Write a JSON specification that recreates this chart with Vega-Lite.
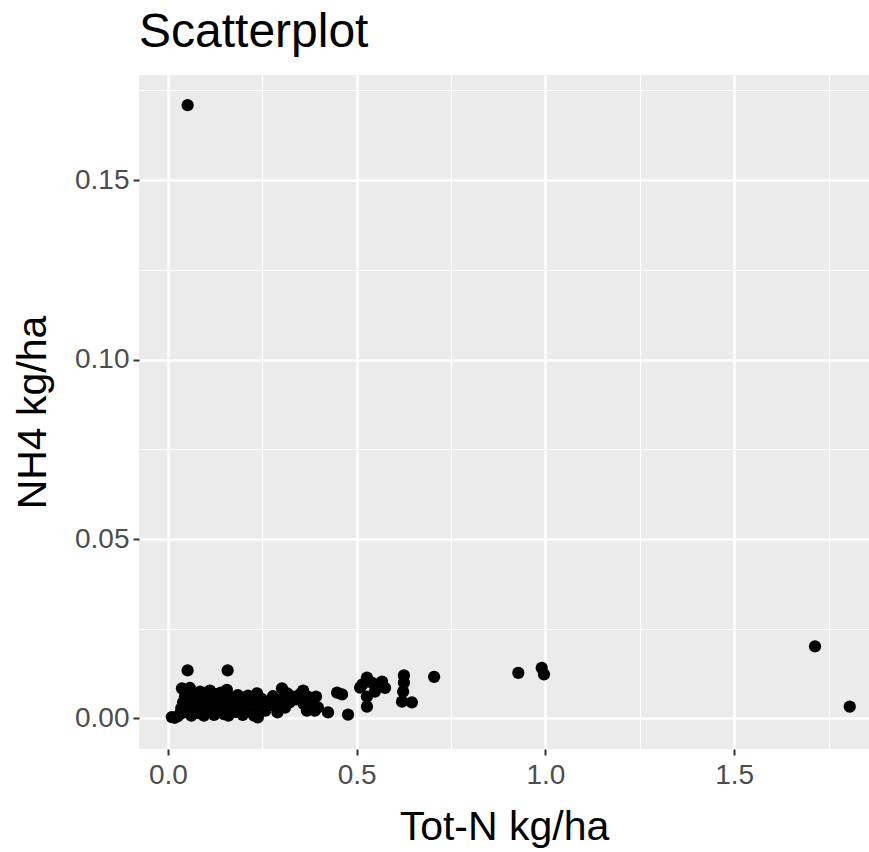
{
  "$schema": "https://vega.github.io/schema/vega-lite/v6.json",
  "autosize": "none",
  "padding": {"left": 139, "top": 75, "right": 0, "bottom": 103},
  "width": 730,
  "height": 674,
  "background": "white",
  "title": {"text": "Scatterplot", "anchor": "start", "frame": "group", "fontSize": 48, "font": "Liberation Sans", "fontWeight": "normal", "color": "black", "offset": 18},
  "config": {"view": {"fill": "#EBEBEB", "stroke": null}},
  "data": {"values": [
    {"totn": 0.052, "nh4": 0.1709},
    {"totn": 1.714, "nh4": 0.0201},
    {"totn": 1.806, "nh4": 0.0033},
    {"totn": 0.928, "nh4": 0.0127},
    {"totn": 0.990, "nh4": 0.0141},
    {"totn": 0.996, "nh4": 0.0123},
    {"totn": 0.705, "nh4": 0.0116},
    {"totn": 0.392, "nh4": 0.0061},
    {"totn": 0.397, "nh4": 0.0031},
    {"totn": 0.424, "nh4": 0.0017},
    {"totn": 0.448, "nh4": 0.0072},
    {"totn": 0.461, "nh4": 0.0067},
    {"totn": 0.477, "nh4": 0.0011},
    {"totn": 0.527, "nh4": 0.0114},
    {"totn": 0.509, "nh4": 0.0086},
    {"totn": 0.567, "nh4": 0.0103},
    {"totn": 0.548, "nh4": 0.0075},
    {"totn": 0.527, "nh4": 0.0061},
    {"totn": 0.527, "nh4": 0.0033},
    {"totn": 0.625, "nh4": 0.0120},
    {"totn": 0.625, "nh4": 0.0100},
    {"totn": 0.623, "nh4": 0.0075},
    {"totn": 0.620, "nh4": 0.0047},
    {"totn": 0.646, "nh4": 0.0045},
    {"totn": 0.515, "nh4": 0.0095},
    {"totn": 0.540, "nh4": 0.0100},
    {"totn": 0.555, "nh4": 0.0090},
    {"totn": 0.575, "nh4": 0.0085},
    {"totn": 0.010, "nh4": 0.0004},
    {"totn": 0.018, "nh4": 0.0002},
    {"totn": 0.025, "nh4": 0.0006},
    {"totn": 0.032, "nh4": 0.0012},
    {"totn": 0.035, "nh4": 0.0028},
    {"totn": 0.040, "nh4": 0.0045},
    {"totn": 0.037, "nh4": 0.0084},
    {"totn": 0.045, "nh4": 0.0062},
    {"totn": 0.048, "nh4": 0.0018},
    {"totn": 0.052, "nh4": 0.0134},
    {"totn": 0.050, "nh4": 0.0035},
    {"totn": 0.058, "nh4": 0.0085},
    {"totn": 0.060, "nh4": 0.0052},
    {"totn": 0.062, "nh4": 0.0008},
    {"totn": 0.068, "nh4": 0.0025},
    {"totn": 0.072, "nh4": 0.0068},
    {"totn": 0.075, "nh4": 0.0040},
    {"totn": 0.080, "nh4": 0.0015},
    {"totn": 0.085, "nh4": 0.0075},
    {"totn": 0.088, "nh4": 0.0055},
    {"totn": 0.092, "nh4": 0.0030},
    {"totn": 0.095, "nh4": 0.0008},
    {"totn": 0.098, "nh4": 0.0062},
    {"totn": 0.102, "nh4": 0.0045},
    {"totn": 0.106, "nh4": 0.0020},
    {"totn": 0.111, "nh4": 0.0078},
    {"totn": 0.114, "nh4": 0.0058},
    {"totn": 0.118, "nh4": 0.0035},
    {"totn": 0.122, "nh4": 0.0010},
    {"totn": 0.126, "nh4": 0.0068},
    {"totn": 0.130, "nh4": 0.0048},
    {"totn": 0.135, "nh4": 0.0025},
    {"totn": 0.140, "nh4": 0.0072},
    {"totn": 0.144, "nh4": 0.0055},
    {"totn": 0.148, "nh4": 0.0012},
    {"totn": 0.152, "nh4": 0.0040},
    {"totn": 0.156, "nh4": 0.0080},
    {"totn": 0.158, "nh4": 0.0134},
    {"totn": 0.160, "nh4": 0.0008},
    {"totn": 0.165, "nh4": 0.0060},
    {"totn": 0.168, "nh4": 0.0030},
    {"totn": 0.175, "nh4": 0.0050},
    {"totn": 0.180, "nh4": 0.0018},
    {"totn": 0.185, "nh4": 0.0065},
    {"totn": 0.190, "nh4": 0.0040},
    {"totn": 0.195, "nh4": 0.0055},
    {"totn": 0.198, "nh4": 0.0010},
    {"totn": 0.205, "nh4": 0.0035},
    {"totn": 0.212, "nh4": 0.0064},
    {"totn": 0.215, "nh4": 0.0020},
    {"totn": 0.222, "nh4": 0.0050},
    {"totn": 0.228, "nh4": 0.0008},
    {"totn": 0.236, "nh4": 0.0070},
    {"totn": 0.238, "nh4": 0.0003},
    {"totn": 0.240, "nh4": 0.0030},
    {"totn": 0.248, "nh4": 0.0055},
    {"totn": 0.255, "nh4": 0.0045},
    {"totn": 0.258, "nh4": 0.0022},
    {"totn": 0.272, "nh4": 0.0050},
    {"totn": 0.278, "nh4": 0.0062},
    {"totn": 0.283, "nh4": 0.0035},
    {"totn": 0.290, "nh4": 0.0017},
    {"totn": 0.302, "nh4": 0.0084},
    {"totn": 0.300, "nh4": 0.0055},
    {"totn": 0.310, "nh4": 0.0030},
    {"totn": 0.316, "nh4": 0.0070},
    {"totn": 0.322, "nh4": 0.0045},
    {"totn": 0.331, "nh4": 0.0061},
    {"totn": 0.340, "nh4": 0.0053},
    {"totn": 0.350, "nh4": 0.0068},
    {"totn": 0.358, "nh4": 0.0078},
    {"totn": 0.360, "nh4": 0.0040},
    {"totn": 0.368, "nh4": 0.0022},
    {"totn": 0.372, "nh4": 0.0060},
    {"totn": 0.380, "nh4": 0.0045},
    {"totn": 0.389, "nh4": 0.0022}
  ]},
  "mark": {"type": "point", "filled": true, "color": "black", "opacity": 1, "size": 150},
  "encoding": {
    "x": {"field": "totn", "type": "quantitative",
      "scale": {"domain": [-0.0768, 1.857], "nice": false, "zero": false},
      "axis": {
        "title": "Tot-N kg/ha", "titleFont": "Liberation Sans", "titleFontSize": 41, "titleFontWeight": "normal", "titleColor": "black", "titlePadding": 18,
        "values": [0, 0.25, 0.5, 0.75, 1, 1.25, 1.5, 1.75],
        "format": ".1f",
        "labelExpr": "abs(datum.value*2 - round(datum.value*2)) < 0.001 ? datum.label : ''",
        "labelFont": "Liberation Sans", "labelFontSize": 28, "labelColor": "#4D4D4D", "labelPadding": 6,
        "domain": false,
        "tickColor": "#333333", "tickSize": 6, "tickWidth": 2,
        "tickOpacity": {"condition": {"test": "abs(datum.value*2 - round(datum.value*2)) < 0.001", "value": 1}, "value": 0},
        "grid": true, "gridColor": "white",
        "gridWidth": {"condition": {"test": "abs(datum.value*2 - round(datum.value*2)) < 0.001", "value": 2.5}, "value": 1.2}
      }},
    "y": {"field": "nh4", "type": "quantitative",
      "scale": {"domain": [-0.0085, 0.1793], "nice": false, "zero": false},
      "axis": {
        "title": "NH4 kg/ha", "titleFont": "Liberation Sans", "titleFontSize": 41, "titleFontWeight": "normal", "titleColor": "black", "titlePadding": 20,
        "values": [0, 0.025, 0.05, 0.075, 0.1, 0.125, 0.15, 0.175],
        "format": ".2f",
        "labelExpr": "abs(datum.value*20 - round(datum.value*20)) < 0.001 ? datum.label : ''",
        "labelFont": "Liberation Sans", "labelFontSize": 28, "labelColor": "#4D4D4D", "labelPadding": 4,
        "domain": false,
        "tickColor": "#333333", "tickSize": 6, "tickWidth": 2,
        "tickOpacity": {"condition": {"test": "abs(datum.value*20 - round(datum.value*20)) < 0.001", "value": 1}, "value": 0},
        "grid": true, "gridColor": "white",
        "gridWidth": {"condition": {"test": "abs(datum.value*20 - round(datum.value*20)) < 0.001", "value": 2.5}, "value": 1.2}
      }}
  }
}
